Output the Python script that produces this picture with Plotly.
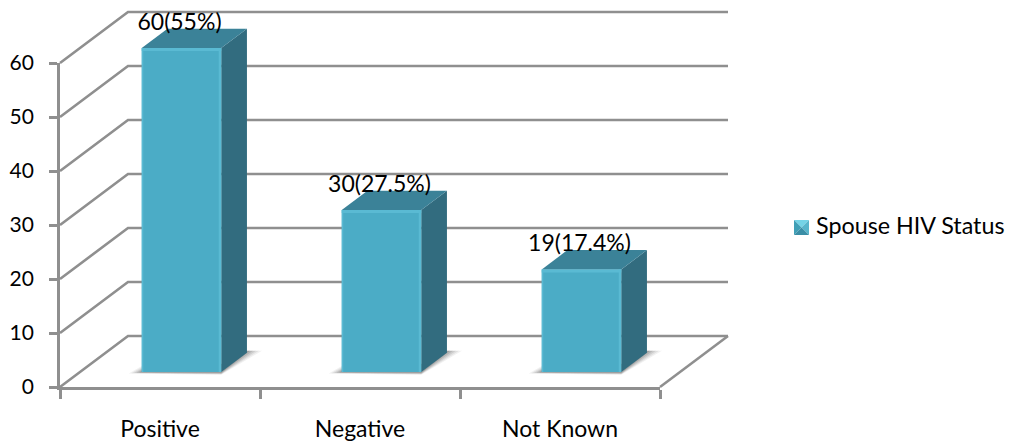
import plotly.graph_objects as go

# Chart data
categories = ["Positive", "Negative", "Not Known"]
counts = [60, 30, 19]
labels = ["60(55%)", "30(27.5%)", "19(17.4%)"]
series_name = "Spouse HIV Status"
y_ticks = [0, 10, 20, 30, 40, 50, 60]

# Page and plot geometry (pixels)
W, H = 1014, 443
L, R, T, B = 60, 660, 63, 387
PX_PER_CAT = (R - L) / 3
PX_PER_VAL = (B - T) / 60

# Data range of the full page, so the drawing layers share the axis scale
PAGE_X = [-0.5 - L / PX_PER_CAT, -0.5 + (W - L) / PX_PER_CAT]
PAGE_Y = [-(H - B) / PX_PER_VAL, B / PX_PER_VAL]

# Oblique projection of the depth axis, in data units
WALL_DX = 68 / PX_PER_CAT
WALL_DY = 51 / PX_PER_VAL
BAR_DX0 = 21.5 / PX_PER_CAT    # front of the bar on the floor
BAR_DY0 = 15 / PX_PER_VAL
BAR_DX = 25.7 / PX_PER_CAT     # bar depth
BAR_DY = 19.3 / PX_PER_VAL
BAR_W = 79.5 / PX_PER_CAT
LABEL_LIFT = 24 / PX_PER_VAL
LABEL_SHIFT = -2 / PX_PER_CAT

GRID = "#8f8f8f"
FONT = "Lato, Carlito, Calibri, sans-serif"
FACE = "#4bacc6"
FACE_LIGHT = "#5abad3"
SIDE = "#326c7f"
TOP = "#3b8298"


def poly(xs, ys, color, layer):
    axis_y = "y2" if layer == "x2" else "y3"
    return go.Scatter(x=xs, y=ys, mode="lines", fill="toself", fillcolor=color,
                      line=dict(width=0), hoverinfo="skip", showlegend=False,
                      xaxis=layer, yaxis=axis_y)


fig = go.Figure()

# Category axis carrier: gives the boundary ticks and labels
fig.add_trace(go.Scatter(x=categories, y=counts, mode="markers", marker=dict(opacity=0),
                         hoverinfo="skip", showlegend=False, xaxis="x", yaxis="y"))

# Side and back wall gridlines
for v in y_ticks:
    fig.add_trace(go.Scatter(
        x=[-0.5, -0.5 + WALL_DX, 2.5 + WALL_DX],
        y=[v, v + WALL_DY, v + WALL_DY],
        mode="lines", line=dict(color=GRID, width=2.6), hoverinfo="skip",
        showlegend=False, xaxis="x2", yaxis="y2"))
# Right edge of the floor
fig.add_trace(go.Scatter(
    x=[2.5, 2.5 + WALL_DX], y=[0, WALL_DY], mode="lines",
    line=dict(color=GRID, width=2.6), hoverinfo="skip", showlegend=False,
    xaxis="x2", yaxis="y2"))

# Soft floor shadows, layered from wide to narrow
for i in range(3):
    left = i + BAR_DX0 - BAR_W / 2
    right = left + BAR_W
    y0 = BAR_DY0
    back = y0 + BAR_DY
    for g, alpha in [(1.0, 0.07), (0.8, 0.09), (0.6, 0.11), (0.4, 0.14), (0.2, 0.18)]:
        gx_left = g * 13 / PX_PER_CAT
        gx_right = g * 15 / PX_PER_CAT
        below = (0.6 + 2.2 * g) / PX_PER_VAL
        fig.add_trace(poly(
            [left - gx_left, right, right + BAR_DX + gx_right, right + BAR_DX, right, left],
            [y0 - below * 0.5, y0 - below, back + 2 / PX_PER_VAL, back + 2 / PX_PER_VAL,
             y0 + 8 / PX_PER_VAL, y0 + g * 6 / PX_PER_VAL],
            f"rgba(50,50,50,{alpha})", "x2"))

# Bar fronts
fig.add_trace(go.Bar(
    x=[i + BAR_DX0 for i in range(3)], y=counts, base=[BAR_DY0] * 3, width=BAR_W,
    marker=dict(color=FACE, line=dict(width=0)), hoverinfo="skip", showlegend=False,
    xaxis="x3", yaxis="y3"))

# Bar tops, sides and bevelled edges
for i, v in enumerate(counts):
    left = i + BAR_DX0 - BAR_W / 2
    right = left + BAR_W
    y0 = BAR_DY0
    y1 = v + BAR_DY0
    fig.add_trace(poly([right, right + BAR_DX, right + BAR_DX, right],
                       [y0, y0 + BAR_DY, y1 + BAR_DY, y1], SIDE, "x3"))
    fig.add_trace(poly([left, left + BAR_DX, right + BAR_DX, right],
                       [y1, y1 + BAR_DY, y1 + BAR_DY, y1], TOP, "x3"))
    bevel_x = 2.5 / PX_PER_CAT
    bevel_y = 3 / PX_PER_VAL
    fig.add_trace(poly([left, right, right, left],
                       [y1, y1, y1 - bevel_y, y1 - bevel_y], FACE_LIGHT, "x3"))
    fig.add_trace(poly([right - bevel_x, right, right, right - bevel_x],
                       [y0, y0, y1, y1], FACE_LIGHT, "x3"))
    fig.add_trace(poly([left, left + bevel_x * 0.6, left + bevel_x * 0.6, left],
                       [y0, y0, y1, y1], FACE_LIGHT, "x3"))

# Value labels above each bar
fig.add_trace(go.Scatter(
    x=[i + BAR_DX0 + LABEL_SHIFT for i in range(3)],
    y=[v + BAR_DY0 + LABEL_LIFT for v in counts],
    mode="text", text=labels, textposition="middle center",
    textfont=dict(family=FONT, size=23, color="#000000"),
    hoverinfo="skip", showlegend=False, xaxis="x3", yaxis="y3"))


def page_x(p):
    return p / W


def page_y(p):
    return 1 - p / H


# Legend key: a small bevelled square, and its text
kx0, kx1, ky0, ky1 = 794, 809, 220, 235
cx, cy = (kx0 + kx1) / 2, (ky0 + ky1) / 2
key_parts = [
    ([kx0, kx1, cx], [ky0, ky0, cy], "#74d3e6"),
    ([kx0, kx0, cx], [ky0, ky1, cy], "#3f9fb6"),
    ([kx1, kx1, cx], [ky0, ky1, cy], "#57b5cb"),
    ([kx0, kx1, cx], [ky1, ky1, cy], "#3a8ea6"),
]
shapes = []
for xs, ys, c in key_parts:
    path = "M " + " L ".join(f"{page_x(a):.5f},{page_y(b):.5f}" for a, b in zip(xs, ys)) + " Z"
    shapes.append(dict(type="path", xref="paper", yref="paper", path=path,
                       fillcolor=c, line=dict(width=0)))

hidden = dict(visible=False, domain=[0, 1])
fig.update_layout(
    width=W, height=H,
    margin=dict(l=0, r=0, t=0, b=0, pad=0),
    paper_bgcolor="white", plot_bgcolor="rgba(0,0,0,0)",
    showlegend=False, shapes=shapes,
    annotations=[dict(text=series_name, xref="paper", yref="paper",
                      x=page_x(816), y=page_y(226), xanchor="left", yanchor="middle",
                      xshift=-2, yshift=0.5, showarrow=False,
                      font=dict(family=FONT, size=23.3, color="#000000"))],
    xaxis=dict(type="category", categoryorder="array", categoryarray=categories,
               domain=[L / W, R / W], anchor="y", automargin=False,
               range=[-0.5, 2.5], tickson="boundaries", ticks="outside", ticklen=9,
               tickwidth=2.5, tickcolor=GRID, showline=True, linecolor=GRID, linewidth=2.8,
               showgrid=False, zeroline=False, ticklabelstandoff=19,
               tickfont=dict(family=FONT, size=23, color="#000000")),
    yaxis=dict(domain=[1 - B / H, 1 - T / H], anchor="x", automargin=False,
               range=[0, 60], tickvals=y_ticks, ticks="outside", ticklen=8, tickwidth=2.5,
               tickcolor=GRID, showline=True, linecolor=GRID, linewidth=2.8,
               showgrid=False, zeroline=False, ticklabelstandoff=11,
               tickfont=dict(family=FONT, size=21, color="#000000")),
    xaxis2=dict(anchor="y2", range=PAGE_X, **hidden),
    yaxis2=dict(anchor="x2", range=PAGE_Y, **hidden),
    xaxis3=dict(anchor="y3", range=PAGE_X, **hidden),
    yaxis3=dict(anchor="x3", range=PAGE_Y, **hidden),
)

fig.write_html("out.html")
